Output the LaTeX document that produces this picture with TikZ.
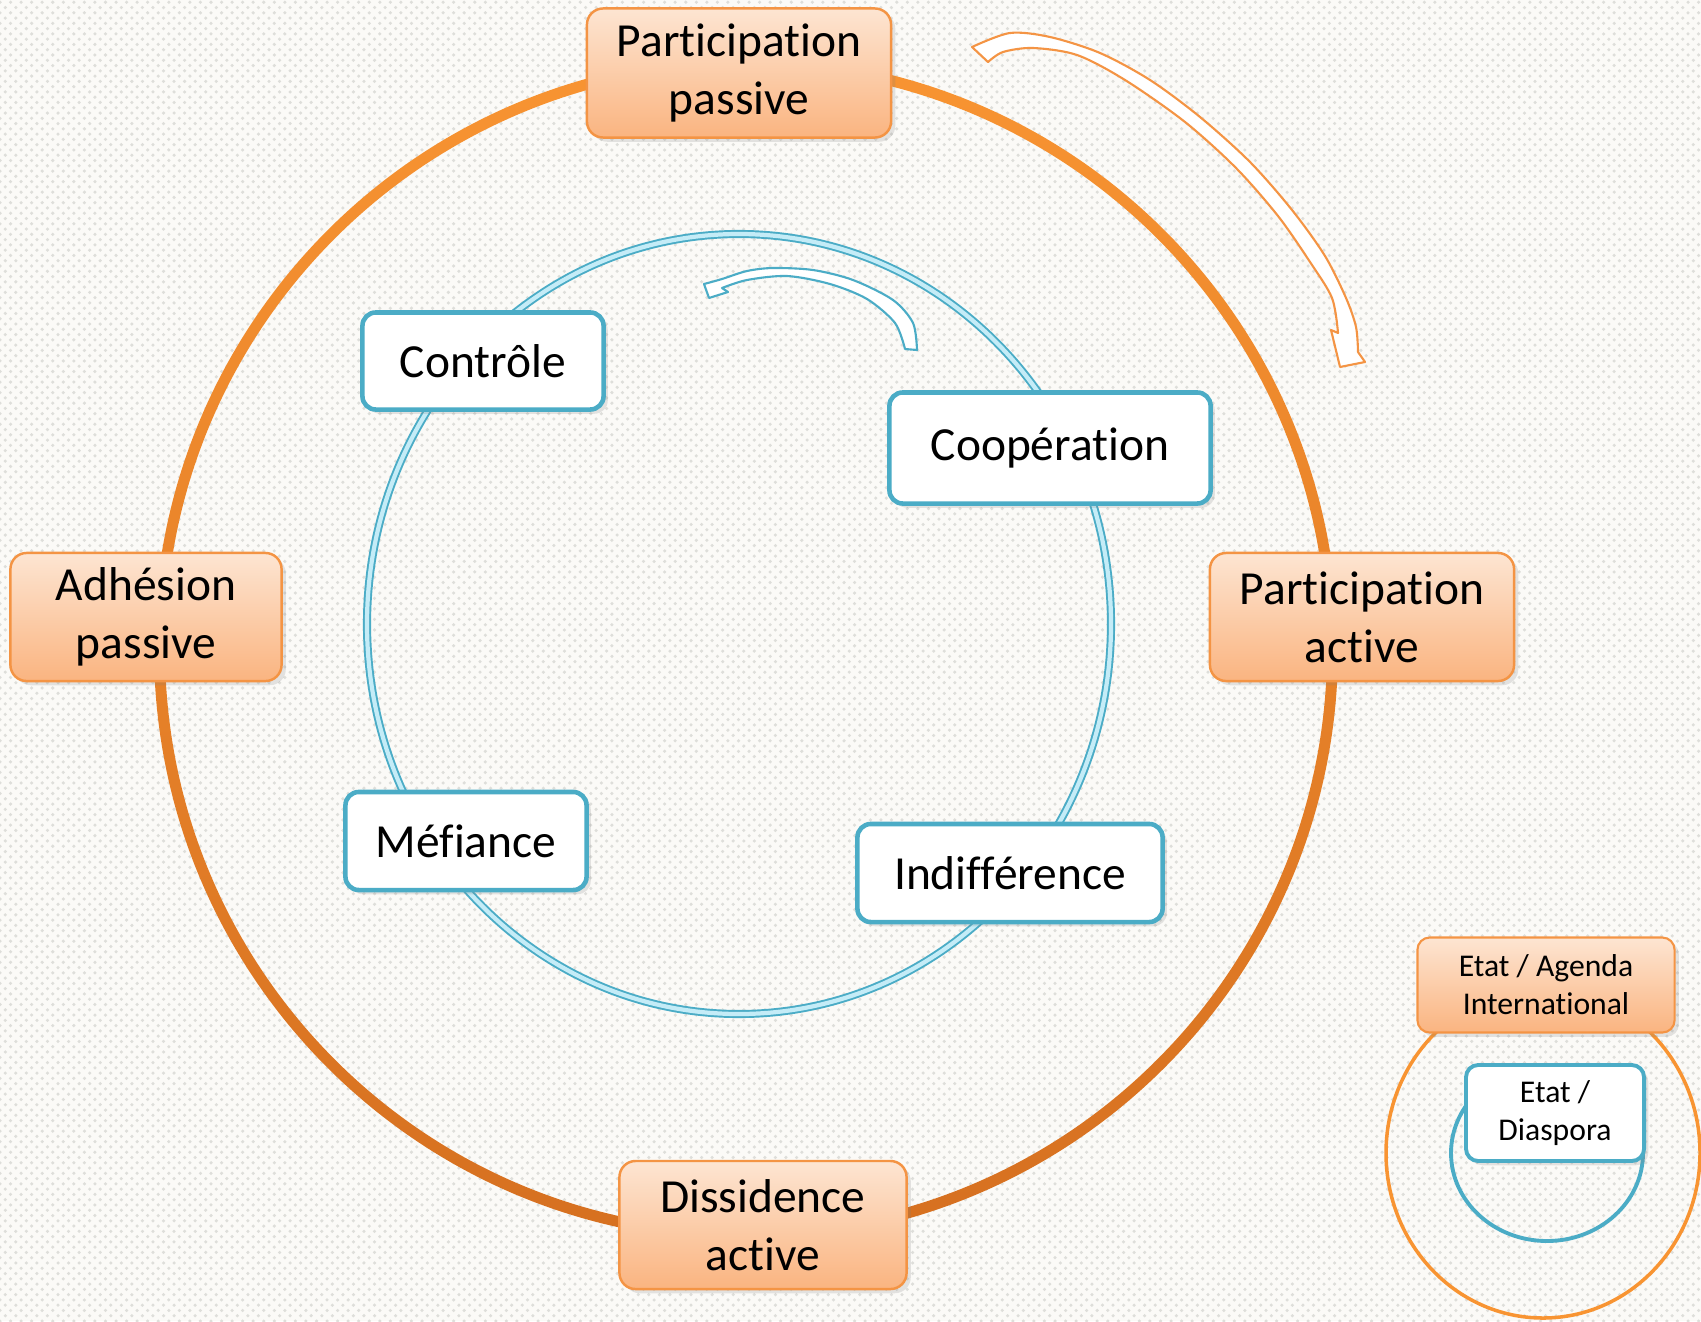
\documentclass[tikz,border=0pt]{standalone}
\usepackage{fontspec}
\setmainfont{Carlito}[Ligatures=NoCommon]
\usetikzlibrary{shadows,patterns}

\definecolor{bgcol}{RGB}{251,250,247}
\definecolor{dotcol}{RGB}{222,222,218}
\definecolor{ringtop}{RGB}{248,148,50}
\definecolor{ringbot}{RGB}{214,112,32}
\definecolor{oedge}{RGB}{244,148,68}
\definecolor{otop}{RGB}{253,229,210}
\definecolor{obot}{RGB}{250,180,128}
\definecolor{bline}{RGB}{75,172,198}
\definecolor{bfill}{RGB}{196,236,247}

\begin{document}
\begin{tikzpicture}[x=0.01cm,y=-0.01cm,
    obox/.style={draw=oedge,line width=0.7pt,rounded corners=4.6pt,
      top color=otop,bottom color=obot,align=center,inner sep=0pt,
      font=\fontsize{13.5}{16.5}\selectfont,
      drop shadow={opacity=0.2,shadow xshift=1.2pt,shadow yshift=-1.2pt}},
    bbox/.style={draw=bline,line width=1.3pt,rounded corners=3.8pt,
      fill=white,align=center,inner sep=0pt,
      font=\fontsize{13.5}{16.5}\selectfont,
      drop shadow={opacity=0.2,shadow xshift=1.2pt,shadow yshift=-1.2pt}},
    small/.style={font=\fontsize{9}{10.8}\selectfont}]

  % background
  \fill[bgcol] (0,0) rectangle (1701,1321);
  \fill[pattern=crosshatch dots,pattern color=dotcol] (0,0) rectangle (1701,1321);
  \useasboundingbox (0,0) rectangle (1701,1321);

  % outer ring
  \shade[top color=ringtop,bottom color=ringbot,even odd rule]
    (746,649) circle [radius=592] (746,649) circle [radius=581];

  % inner ring
  \draw[bline,line width=2.3pt] (739,624) ellipse [x radius=372,y radius=390];
  \draw[bfill,line width=1.2pt] (739,624) ellipse [x radius=372,y radius=390];

  % orange arrow
  \draw[fill=white,draw=oedge,line width=0.6pt,line join=round]
    plot[smooth] coordinates {(972,47) (1010,33) (1050,37) (1100,53) (1150,80)
      (1200,117) (1250,162) (1292,210) (1325,256) (1346,298) (1356,327) (1358,352)}
    -- (1365,362) -- (1340,367) -- (1331,330) -- (1338,333)
    -- plot[smooth] coordinates {(1338,333) (1332,298) (1310,262) (1278,216)
      (1236,168) (1185,122) (1125,80) (1077,55) (1033,48) (1003,52) (988,62)}
    -- cycle;

  % blue arrow
  \draw[fill=white,draw=bline,line width=0.6pt,line join=round]
    plot[smooth] coordinates {(917,350) (913,323) (893,300) (853,280) (813,270)
      (773,268) (747,271) (722,279) (704,284)}
    -- (709,298) -- (728,292) -- (722,288)
    -- plot[smooth] coordinates {(722,288) (747,280) (787,276) (830,284)
      (867,299) (895,323) (905,349)}
    -- cycle;

  % outer boxes
  \node[obox,minimum width=3.04cm,minimum height=1.29cm] (pp) at (739,73) {Participation\\passive};
  \node[obox,minimum width=2.71cm,minimum height=1.28cm] (ap) at (146,617) {Adhésion\\passive};
  \node[obox,minimum width=3.04cm,minimum height=1.28cm] (pa) at (1362,617) {Participation\\active};
  \node[obox,minimum width=2.87cm,minimum height=1.28cm] (da) at (763,1225) {Dissidence\\active};

  % inner boxes
  \node[bbox,minimum width=2.41cm,minimum height=0.97cm] (ctrl) at (483,361) {Contrôle};
  \node[bbox,minimum width=3.21cm,minimum height=1.11cm] (coop) at (1050,448) {Coopération};
  \node[bbox,minimum width=2.41cm,minimum height=0.98cm] (mef) at (466,841) {Méfiance};
  \node[bbox,minimum width=3.05cm,minimum height=0.98cm] (indif) at (1010,873) {Indifférence};

  % legend
  \draw[ringtop,line width=1pt] (1543,1153) ellipse [x radius=157,y radius=165];
  \draw[bline,line width=1.1pt] (1547,1153) ellipse [x radius=96,y radius=88];
  \node[obox,small,line width=0.6pt,rounded corners=3.5pt,minimum width=2.57cm,minimum height=0.95cm] (legA) at (1546,985) {Etat / Agenda\\International};
  \node[bbox,small,line width=1.1pt,rounded corners=3.5pt,minimum width=1.78cm,minimum height=0.96cm] (legB) at (1555,1113) {Etat /\\Diaspora};
\end{tikzpicture}
\end{document}
